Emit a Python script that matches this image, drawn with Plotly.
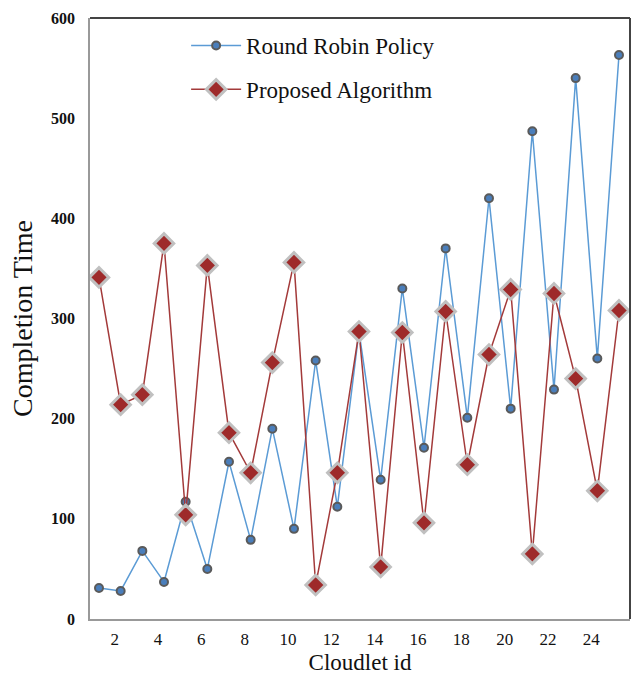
import plotly.graph_objects as go

cloudlet_id = list(range(1, 26))
round_robin = [31, 28, 68, 37, 117, 50, 157, 79, 190, 90, 258, 112, 287, 139, 330,
               171, 370, 201, 420, 210, 487, 229, 540, 260, 563]
proposed = [341, 214, 224, 375, 104, 353, 186, 146, 256, 356, 34, 146, 287, 52, 286,
            96, 307, 154, 264, 329, 65, 325, 240, 128, 308]
x_ticks = list(range(0, 25, 2))
y_ticks = list(range(0, 601, 100))

serif = "Liberation Serif, Times New Roman, serif"

fig = go.Figure()
fig.add_trace(go.Scatter(
    x=cloudlet_id, y=round_robin, mode="lines+markers", name="Round Robin Policy",
    legendgroup="a",
    line=dict(color="#5b9bd5", width=1.5),
    marker=dict(symbol="circle", size=8, color="#4a7ebb",
                line=dict(color="#5a5a5a", width=2)),
))
fig.add_trace(go.Scatter(
    x=cloudlet_id, y=proposed, mode="lines+markers", name="Proposed Algorithm",
    legendgroup="b",
    line=dict(color="#a33a3a", width=1.5),
    marker=dict(symbol="diamond", size=15, color="#9e2a2a",
                line=dict(color="#c0c0c0", width=3)),
))

fig.update_layout(
    width=633, height=681,
    margin=dict(l=90, r=3, t=18, b=62),
    plot_bgcolor="white", paper_bgcolor="white",
    font=dict(family=serif, color="#111"),
    showlegend=True,
    legend=dict(x=0.178, y=0.99, xanchor="left", yanchor="top",
                font=dict(family=serif, size=23, color="#111"),
                tracegroupgap=11, bgcolor="rgba(0,0,0,0)", itemwidth=50),
    xaxis=dict(range=[0.585, 25.508], tickmode="array", tickvals=x_ticks,
               ticktext=[str(v) for v in x_ticks],
               showgrid=False, zeroline=False, showline=True,
               linecolor="#999999", linewidth=1.5, ticks="",
               ticklabelstandoff=4, ticklabelshift=-6,
               tickfont=dict(family=serif, size=17, color="#111"),
               title=dict(text="Cloudlet id", standoff=6,
                          font=dict(family=serif, size=23, color="#111"))),
    yaxis=dict(range=[0, 600], tickmode="array", tickvals=y_ticks,
               showgrid=False, zeroline=False, showline=True,
               linecolor="#999999", linewidth=1.5, ticks="",
               ticklabelstandoff=10,
               tickfont=dict(family=serif, size=16, color="#111", weight="bold"),
               title=dict(text="Completion Time", standoff=10,
                          font=dict(family=serif, size=28, color="#111"))),
    shapes=[
        dict(type="line", xref="paper", yref="paper", x0=0, x1=1, y0=1, y1=1,
             line=dict(color="#444444", width=2)),
        dict(type="line", xref="paper", yref="paper", x0=1, x1=1, y0=0, y1=1,
             line=dict(color="#444444", width=2)),
    ],
)

fig.write_html("out.html")
